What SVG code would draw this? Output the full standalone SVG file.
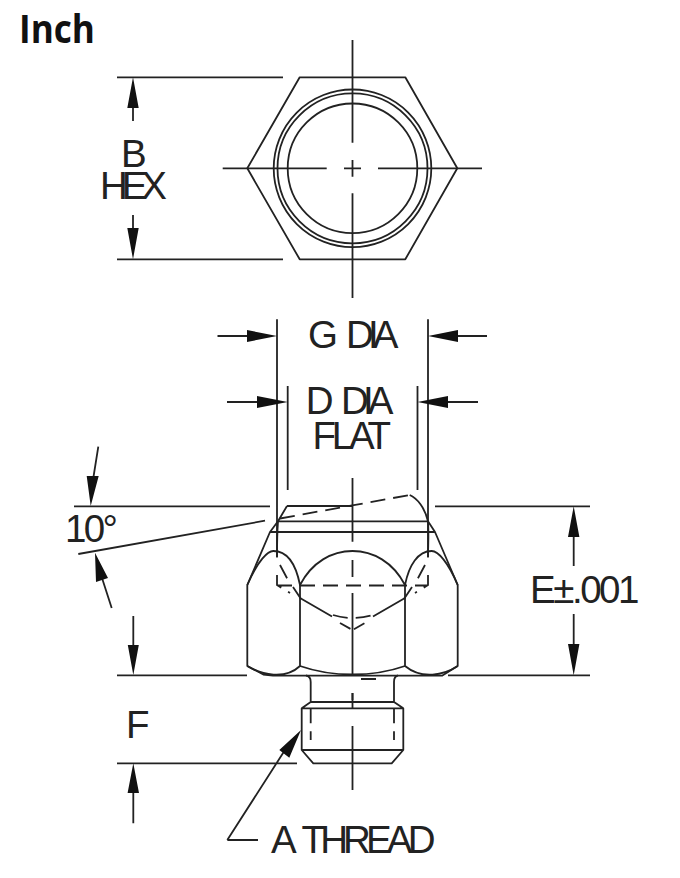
<svg xmlns="http://www.w3.org/2000/svg" width="680" height="878" viewBox="0 0 680 878">
<style>
text{font-family:"Liberation Sans",Arial,sans-serif;font-size:38.5px;fill:#222}
.t{font-family:"Open Sans","Liberation Sans",sans-serif;font-weight:700;font-size:39px;fill:#111}
.l{fill:none;stroke:#222;stroke-width:1.8;stroke-linecap:butt;stroke-linejoin:round}
.d{fill:none;stroke:#222;stroke-width:1.8;stroke-dasharray:15 8}
.a{fill:#111;stroke:none}
</style>
<rect width="680" height="878" fill="#fff"/>
<text class="t" x="19" y="43" textLength="76" lengthAdjust="spacingAndGlyphs">Inch</text>
<g id="hex-view">
<path class="l" d="M299.7 77.3H405.3L457.3 168.3L405.3 259.3H299.7L247.3 168.3Z"/>
<circle class="l" cx="352.5" cy="168.3" r="78.8"/>
<circle class="l" cx="352.5" cy="168.3" r="75"/>
<circle class="l" cx="352.5" cy="168.3" r="64.8"/>
<path class="l" d="M352.5 40V142.7M352.5 160V176.7M352.5 193.3V298M222.7 168.3H326.7M344 168.3H361M378 168.3H482"/>
</g>
<g id="body">
<path class="l" d="M287 506H352.5M278 521.3H428M270 532H435M287 506L278 521.3L270 532L247.3 585V666L263.3 674.5L273 675.7H442L457.7 666V585L435 532L428 521.3C425 508 417 498 409.7 495"/>
<path class="d" d="M280 518.500L409.700 495"/>
<path class="l" d="M247.300 585C258 560 268 551 273.300 551C288 551 296 565 300 585C312 562 332 551 352.500 551C373 551 393 562 405 585C409 565 418 551 431.700 551C438 551 448 562 457.700 585"/>
<path class="l" d="M300 585V666M405 585V666M247.300 666C262 675 285 680 300 666C320 673 336 674.500 352.500 674.500C369 674.500 385 673 405 666C422 680 444 675 457.700 666"/>
<path class="l" d="M278 521.300C277 535 277 545 277 557.500M428 521.300C429 535 428 545 428 557.500M300 598L332 616.500M405 598L373 616.500"/>
<path class="d" d="M277 575V585L290 593M428 575V585L415 593M280 565L288 580M425 565L417 580M277 585.500H428"/>
<path class="d" stroke-dasharray="12 5" d="M293 587L301 599M412 587L404 599"/>
<path class="d" stroke-dasharray="14 7" d="M333 615C345 619 360 619 373 615"/>
<path class="l" stroke-dasharray="12 4" d="M340 623L352.500 630L365 623"/>
<path class="l" d="M352.500 478V541.700M352.500 560V577M352.500 593V675M352.500 693V700M361 679H376"/>
</g>
<g id="thread">
<path class="l" d="M306 675.500C309.500 676 310.700 678 310.700 682V702M394 702V682C394 678 395 676 398 675.500M310.700 702H394M301.700 708.300L310.700 702M403.300 708.300L394 702M301.700 708.300H403.300V750L391.700 763.300H313.300L301.700 750ZM301.700 750H403.300"/>
<path class="d" d="M310.700 708.300V740M394 708.300V740"/>
<path class="l" d="M352.500 693V708.300M352.500 726V790"/>
</g>
<g id="connectors">
<path class="l" d="M117 77.300H283M117 259.300H283M133 107V121M133 215V229M277 319.300V557M428 319.300V557M287.700 386V490M417.500 386V490M217.500 336H247M458 336H487M227 402H257M448 402H478M74 506.300H270M435 506.300H590M78.300 554L265 520.700M98.300 446.700L93 480M111.700 608L102 578M117 675.300H247M448 675.300H590M133.300 616V645M573.700 536V566M573.700 614V645M117 763.300H297M133.300 792V823.300M227.300 840L285 750M227.300 840H258"/>
<path class="a" d="M133 77.300L127.300 108H138.700ZM133 259.300L127.300 228H138.700ZM277 336L247 330V342ZM428 336L458 330V342ZM287.700 402L257 396V408ZM417.500 402L448 396V408ZM90.700 506L86.700 476H98.700ZM95 552.700L96 582L108 578ZM133.300 675L127.800 645H138.800ZM573.700 506.300L568 537H579.400ZM573.700 675.300L568 644H579.400ZM133.300 763.300L127.600 793H139ZM301 730L279.300 750L289.300 757.700Z"/>
</g>
<text x="121" y="167.300">B</text>
<text x="100" y="199.300" textLength="67" lengthAdjust="spacing">HEX</text>
<text x="308" y="348"><tspan>G</tspan><tspan x="346" textLength="52.500">DIA</tspan></text>
<text x="305.700" y="414"><tspan>D</tspan><tspan x="341" textLength="52.500">DIA</tspan></text>
<text x="312.500" y="448.500" textLength="78.500" lengthAdjust="spacing">FLAT</text>
<text x="65" y="541.700" textLength="53" lengthAdjust="spacing">10°</text>
<text x="530" y="603.300" textLength="109.500" lengthAdjust="spacing">E±.001</text>
<text x="126" y="737.700">F</text>
<text x="271" y="853"><tspan>A</tspan><tspan x="301.500" textLength="134">THREAD</tspan></text>
</svg>
